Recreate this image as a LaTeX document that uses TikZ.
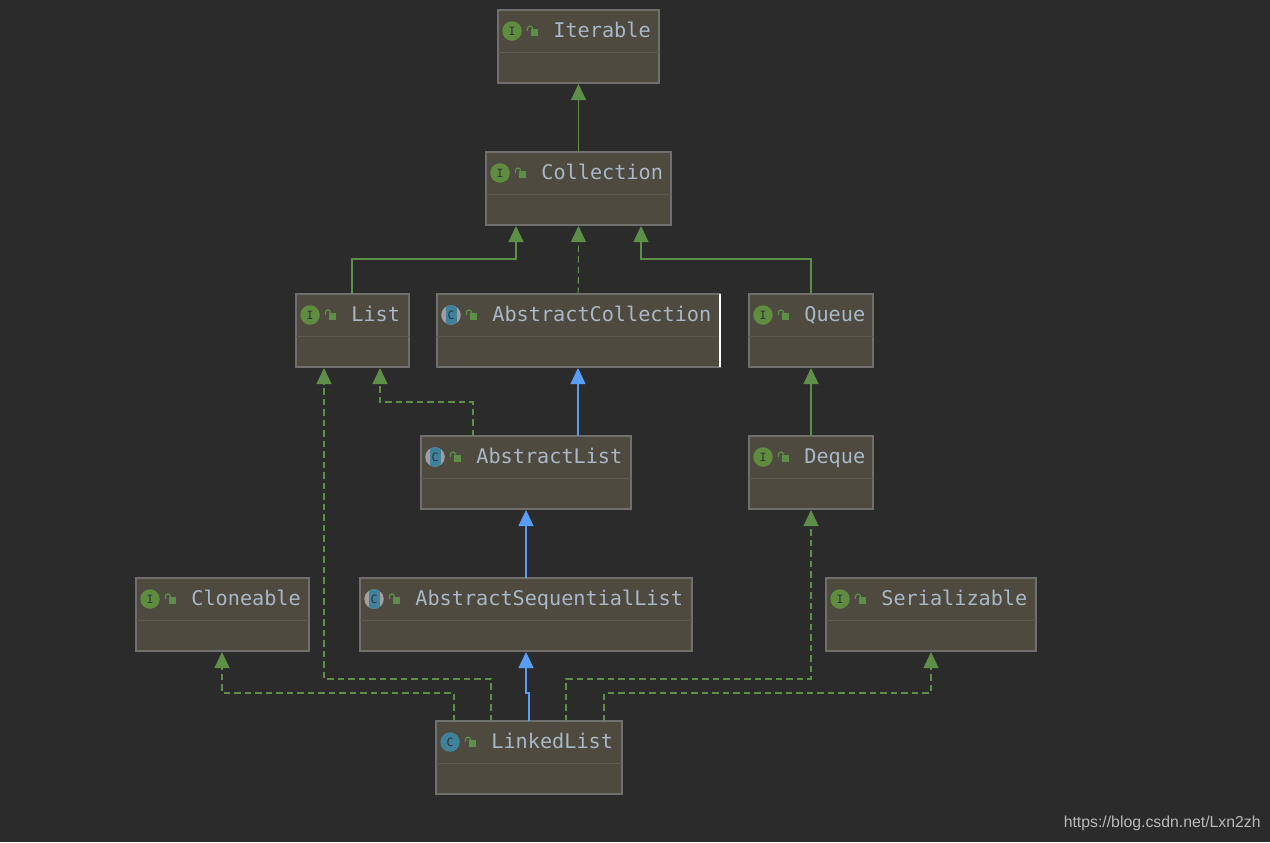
\documentclass[tikz,border=0pt]{standalone}
\usepackage{fontspec}
\setmainfont{Liberation Sans}
\newfontfamily\umlmono{DejaVu Sans Mono}
\usetikzlibrary{arrows.meta}
\definecolor{bgc}{HTML}{2B2B2B}
\definecolor{boxc}{HTML}{4E4A3F}
\definecolor{edgec}{HTML}{6F6F6D}
\definecolor{divc}{HTML}{5C5950}
\definecolor{textc}{HTML}{A9B7C6}
\definecolor{greenc}{HTML}{5E8F48}
\definecolor{bluec}{HTML}{589DF6}
\definecolor{ifacec}{HTML}{5F8C3F}
\definecolor{classc}{HTML}{40819B}
\definecolor{darkc}{HTML}{28343A}
\definecolor{markc}{HTML}{B9B9B9}
\def\pxu{0.02cm}
\tikzset{
  umlbox/.style={draw=edgec,fill=boxc,line width=0.022cm,inner sep=0pt,outer sep=0pt,minimum height=73*\pxu,anchor=north west},
  umllabel/.style={anchor=base west,inner sep=0pt,text=textc,font=\umlmono\fontsize{11.5}{13}\selectfont},
  iconbase/.style={circle,inner sep=0pt,outer sep=0pt,minimum size=19.5*\pxu,text=darkc,font=\umlmono\fontsize{6.5}{7}\selectfont},
  ifaceicon/.style={iconbase,fill=ifacec},
  classicon/.style={iconbase,fill=classc},
  abstracticon/.style={iconbase,fill=gray!75,path picture={\fill[classc] ([xshift=-5.5*\pxu]path picture bounding box.south) rectangle ([xshift=5.5*\pxu]path picture bounding box.north);}},
  tip/.style={-{Triangle[length=16*\pxu,width=15*\pxu]},shorten >=1*\pxu},
  realize/.style={draw=greenc,line width=0.021cm,tip,dash pattern=on 0.13cm off 0.08cm},
  extiface/.style={draw=greenc,line width=0.021cm,tip},
  extclass/.style={draw=bluec,line width=0.021cm,tip},
  pics/lockicon/.style={code={
    \fill[greenc] (-1.5,-2.5) rectangle (6,5);
    \draw[greenc,line width=0.024cm] (-4.5,0) -- (-4.5,-2.5) arc[start angle=180,end angle=360,radius=2.5] -- (0.5,-2);
  }}
}
\newcommand{\umlnode}[7]{%
  \node[umlbox,minimum width=#4*\pxu] (#1) at (#2,#3) {};
  \draw[divc,line width=0.02cm] ([yshift=-42*\pxu]#1.north west) -- ([yshift=-42*\pxu]#1.north east);
  \node[#5] (#1-icon) at ([shift={(14,21)}]#1.north west) {#6};
  \pic at ([shift={(34,21)}]#1.north west) {lockicon};
  \node[umllabel] (#1-label) at ([shift={(55,27)}]#1.north west) {#7};
}
\begin{document}
\begin{tikzpicture}[x=0.02cm,y=-0.02cm]
\useasboundingbox (0,0) rectangle (1270,842);
\fill[bgc] (0,0) rectangle (1270,842);

\umlnode{iterable}{498}{10}{161}{ifaceicon}{I}{Iterable}
\umlnode{collection}{486}{152}{185}{ifaceicon}{I}{Collection}
\umlnode{list}{296}{294}{113}{ifaceicon}{I}{List}
\umlnode{abscoll}{437}{294}{283}{abstracticon}{C}{AbstractCollection}
\draw[white,line width=0.04cm] (abscoll.north east) -- (abscoll.south east);
\umlnode{queue}{749}{294}{124}{ifaceicon}{I}{Queue}
\umlnode{abslist}{421}{436}{210}{abstracticon}{C}{AbstractList}
\umlnode{deque}{749}{436}{124}{ifaceicon}{I}{Deque}
\umlnode{cloneable}{136}{578}{173}{ifaceicon}{I}{Cloneable}
\umlnode{absseq}{360}{578}{332}{abstracticon}{C}{AbstractSequentialList}
\umlnode{serial}{826}{578}{210}{ifaceicon}{I}{Serializable}
\umlnode{linked}{436}{721}{186}{classicon}{C}{LinkedList}

\draw[extiface] (collection.north -| iterable.south) -- (iterable.south);
\draw[extiface] ([xshift=56*\pxu]list.north west) -- ++(0,-35) -| ([xshift=30*\pxu]collection.south west);
\draw[realize] (abscoll.north) ++(-0.3*\pxu,0) -- (collection.south);
\draw[extiface] ([xshift=62*\pxu]queue.north west) -- ++(0,-35) -| ([xshift=155*\pxu]collection.south west);
\draw[extclass] ([xshift=157*\pxu]abslist.north west) -- ([xshift=141*\pxu]abscoll.south west);
\draw[realize] ([xshift=52*\pxu]abslist.north west) -- ++(0,-34) -| ([xshift=84*\pxu]list.south west);
\draw[extiface] (deque.north) -- (queue.south);
\draw[extclass] ([xshift=166*\pxu]absseq.north west) -- ([xshift=105*\pxu]abslist.south west);
\draw[extclass] ([xshift=93*\pxu]linked.north west) -- ++(0,-28) -| (absseq.south);
\draw[realize] ([xshift=18*\pxu]linked.north west) -- ++(0,-28) -| ([xshift=86*\pxu]cloneable.south west);
\draw[realize] ([xshift=55*\pxu]linked.north west) -- ++(0,-42) -| ([xshift=28*\pxu]list.south west);
\draw[realize] ([xshift=130*\pxu]linked.north west) -- ++(0,-42) -| ([xshift=62*\pxu]deque.south west);
\draw[realize] ([xshift=168*\pxu]linked.north west) -- ++(0,-28) -| ([xshift=105*\pxu]serial.south west);

\node[anchor=east,inner sep=0pt,text=markc,font=\fontsize{9}{11}\selectfont] (mark) at (1261,823) {https://blog.csdn.net/Lxn2zh};
\end{tikzpicture}
\end{document}
